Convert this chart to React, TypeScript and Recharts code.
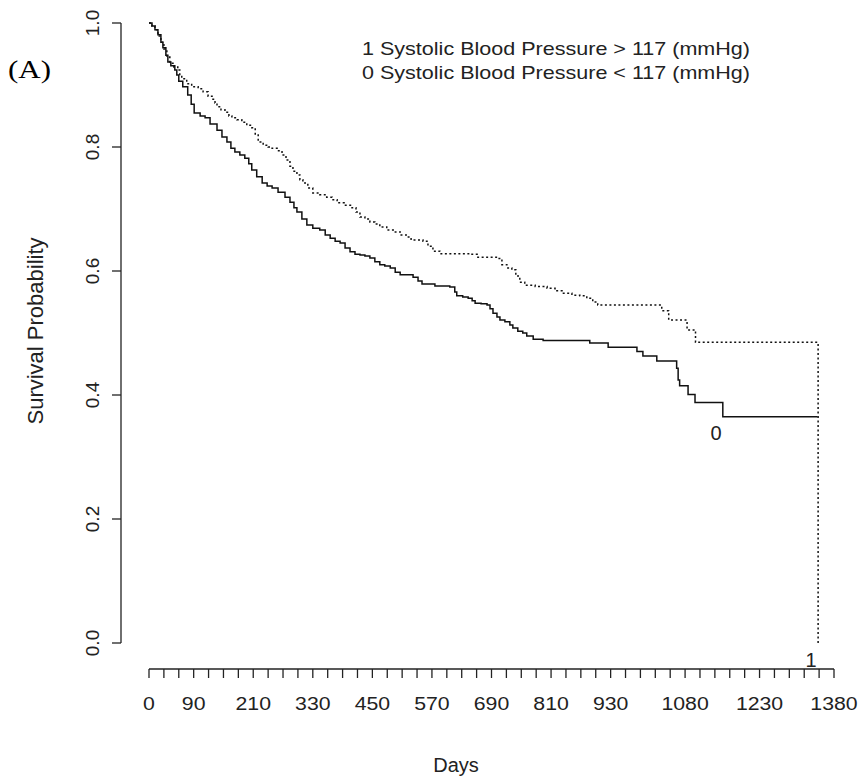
import React from 'react';
import { LineChart, Line, XAxis, YAxis, Customized } from 'recharts';

// Group 0: Systolic Blood Pressure < 117 (solid)
const daysGroup0 = [
  0, 6, 12, 18, 24, 28, 34, 38, 44, 52,
  56, 60, 68, 78, 85, 91, 103, 113, 123, 137,
  147, 157, 165, 173, 183, 193, 201, 207, 217, 228,
  238, 248, 260, 274, 284, 292, 298, 308, 318, 330,
  344, 355, 365, 375, 385, 395, 405, 415, 425, 435,
  445, 455, 465, 475, 486, 496, 506, 532, 542, 550,
  576, 606, 616, 620, 632, 643, 651, 657, 669, 681,
  687, 693, 701, 707, 717, 727, 733, 743, 753, 761,
  774, 794, 888, 925, 983, 995, 1023, 1063, 1066, 1069,
  1086, 1100, 1156, 1347,
];
const survGroup0 = [
  1.0, 0.995, 0.989, 0.981, 0.969, 0.96, 0.948, 0.937, 0.931, 0.924,
  0.916, 0.906, 0.897, 0.884, 0.869, 0.855, 0.85, 0.847, 0.837, 0.827,
  0.816, 0.808, 0.798, 0.792, 0.787, 0.782, 0.773, 0.763, 0.752, 0.742,
  0.737, 0.734, 0.727, 0.719, 0.711, 0.702, 0.695, 0.684, 0.674, 0.669,
  0.666, 0.658, 0.653, 0.648, 0.645, 0.637, 0.631, 0.627, 0.626, 0.624,
  0.621, 0.615, 0.61, 0.608, 0.605, 0.598, 0.594, 0.59, 0.584, 0.579,
  0.576, 0.574, 0.566, 0.56, 0.558, 0.556, 0.552, 0.548, 0.547, 0.545,
  0.539, 0.532, 0.526, 0.521, 0.518, 0.513, 0.508, 0.503, 0.5, 0.495,
  0.49, 0.488, 0.484, 0.477, 0.47, 0.463, 0.455, 0.443, 0.424, 0.415,
  0.401, 0.388, 0.365, 0.365,
];

// Group 1: Systolic Blood Pressure > 117 (dotted)
const daysGroup1 = [
  0, 6, 12, 18, 24, 30, 36, 42, 50, 58,
  62, 66, 76, 86, 99, 109, 119, 127, 133, 137,
  145, 153, 161, 167, 177, 187, 197, 207, 214, 220,
  230, 240, 248, 258, 268, 276, 284, 290, 298, 304,
  310, 320, 330, 344, 358, 369, 379, 393, 409, 417,
  425, 435, 445, 455, 465, 479, 492, 506, 520, 528,
  552, 562, 572, 586, 647, 661, 703, 711, 721, 731,
  739, 747, 757, 778, 802, 818, 832, 852, 868, 882,
  894, 904, 1033, 1047, 1084, 1101, 1348,
];
const survGroup1 = [
  1.0, 0.995, 0.989, 0.979, 0.969, 0.958, 0.945, 0.935, 0.929, 0.924,
  0.915, 0.91, 0.902, 0.897, 0.894, 0.889, 0.882, 0.877, 0.871, 0.865,
  0.86, 0.856, 0.85, 0.847, 0.844, 0.84, 0.835, 0.831, 0.821, 0.808,
  0.803, 0.8, 0.798, 0.794, 0.787, 0.779, 0.769, 0.761, 0.755, 0.747,
  0.742, 0.734, 0.726, 0.723, 0.719, 0.715, 0.71, 0.706, 0.702, 0.695,
  0.687, 0.684, 0.679, 0.676, 0.671, 0.666, 0.663, 0.658, 0.655, 0.65,
  0.648, 0.64, 0.632, 0.628, 0.627, 0.622, 0.62, 0.61, 0.605, 0.602,
  0.592, 0.582, 0.577, 0.575, 0.572, 0.568, 0.564, 0.561, 0.56, 0.556,
  0.55, 0.545, 0.536, 0.521, 0.505, 0.485, 0.0,
];

const xTicks = [
  0, 30, 60, 90, 120, 150, 180, 210, 240, 270, 300, 330, 360, 390, 420, 450,
  480, 510, 540, 570, 600, 630, 660, 690, 720, 750, 780, 810, 840, 870, 900,
  930, 960, 990, 1020, 1050, 1080, 1110, 1140, 1170, 1200, 1230, 1260, 1290,
  1320, 1350, 1380,
];
const xTickLabels = [0, 90, 210, 330, 450, 570, 690, 810, 930, 1080, 1230, 1380];
const yTicks = [0, 0.2, 0.4, 0.6, 0.8, 1.0];

const legendLines = [
  '1 Systolic Blood Pressure > 117 (mmHg)',
  '0 Systolic Blood Pressure < 117 (mmHg)',
];

const data0 = daysGroup0.map((t, i) => ({ t, s: survGroup0[i] }));
const data1 = daysGroup1.map((t, i) => ({ t, s: survGroup1[i] }));

const FONT = '"Liberation Sans", Arial, sans-serif';
const INK = '#222';

const XTick = (props: any) => {
  const { x, y, payload } = props;
  if (!xTickLabels.includes(payload.value)) return <g />;
  return (
    <text
      x={0}
      y={0}
      transform={`translate(${x},${y + 58}) scale(1.12,1)`}
      textAnchor="middle"
      style={{ fontFamily: FONT, fontSize: 19 }}
      fill={INK}
    >
      {payload.value}
    </text>
  );
};

const YTick = (props: any) => {
  const { x, y, payload } = props;
  return (
    <text
      x={0}
      y={0}
      transform={`translate(${x - 41},${y}) rotate(-90)`}
      textAnchor="middle"
      style={{ fontFamily: FONT, fontSize: 19 }}
      fill={INK}
    >
      {Number(payload.value).toFixed(1)}
    </text>
  );
};

const Annotations = () => (
  <g style={{ fontFamily: FONT }} fill={INK}>
    <text
      x={0}
      y={0}
      transform="translate(8,78) scale(1.19,1)"
      style={{ fontFamily: '"Liberation Serif", "Times New Roman", serif', fontSize: 26 }}
      fill="#000"
    >
      (A)
    </text>
    <text x={362} y={55} style={{ fontSize: 18.5 }} textLength={388} lengthAdjust="spacingAndGlyphs">
      {legendLines[0]}
    </text>
    <text x={362} y={79} style={{ fontSize: 18.5 }} textLength={388} lengthAdjust="spacingAndGlyphs">
      {legendLines[1]}
    </text>
    <text transform="translate(43,331) rotate(-90)" textAnchor="middle" style={{ fontSize: 22 }}>
      Survival Probability
    </text>
    <text x={456} y={772} textAnchor="middle" style={{ fontSize: 20 }}>
      Days
    </text>
    <text x={716} y={440} textAnchor="middle" style={{ fontSize: 20 }}>
      0
    </text>
    <text x={811} y={667} textAnchor="middle" style={{ fontSize: 20 }}>
      1
    </text>
  </g>
);

export default function App() {
  return (
    <div style={{ position: 'absolute', left: 0, top: 0, width: 859, height: 780, background: '#fff' }}>
      <style>{`
        .recharts-xAxis .recharts-cartesian-axis-line,
        .recharts-xAxis .recharts-cartesian-axis-tick-line { transform: translate(0px, 26px); }
        .recharts-yAxis .recharts-cartesian-axis-line,
        .recharts-yAxis .recharts-cartesian-axis-tick-line { transform: translate(-28px, 0px); }
      `}</style>
      <LineChart width={859} height={780} margin={{ top: 23, right: 25, bottom: 97, left: 89 }}>
        <XAxis
          type="number"
          dataKey="t"
          domain={[0, 1380]}
          ticks={xTicks}
          interval={0}
          allowDataOverflow
          height={40}
          tickSize={9}
          tickMargin={0}
          axisLine={{ stroke: INK, strokeWidth: 1.3 }}
          tickLine={{ stroke: INK, strokeWidth: 1.3 }}
          tick={<XTick />}
        />
        <YAxis
          type="number"
          domain={[0, 1]}
          ticks={yTicks}
          interval={0}
          width={60}
          tickSize={9}
          tickMargin={0}
          axisLine={{ stroke: INK, strokeWidth: 1.3 }}
          tickLine={{ stroke: INK, strokeWidth: 1.3 }}
          tick={<YTick />}
        />
        <Line
          data={data0}
          dataKey="s"
          type="stepAfter"
          stroke="#111"
          strokeWidth={1.5}
          dot={false}
          activeDot={false}
          isAnimationActive={false}
        />
        <Line
          data={data1}
          dataKey="s"
          type="stepAfter"
          stroke="#111"
          strokeWidth={1.5}
          strokeDasharray="2 2.5"
          dot={false}
          activeDot={false}
          isAnimationActive={false}
        />
        <Customized component={<Annotations />} />
      </LineChart>
    </div>
  );
}
